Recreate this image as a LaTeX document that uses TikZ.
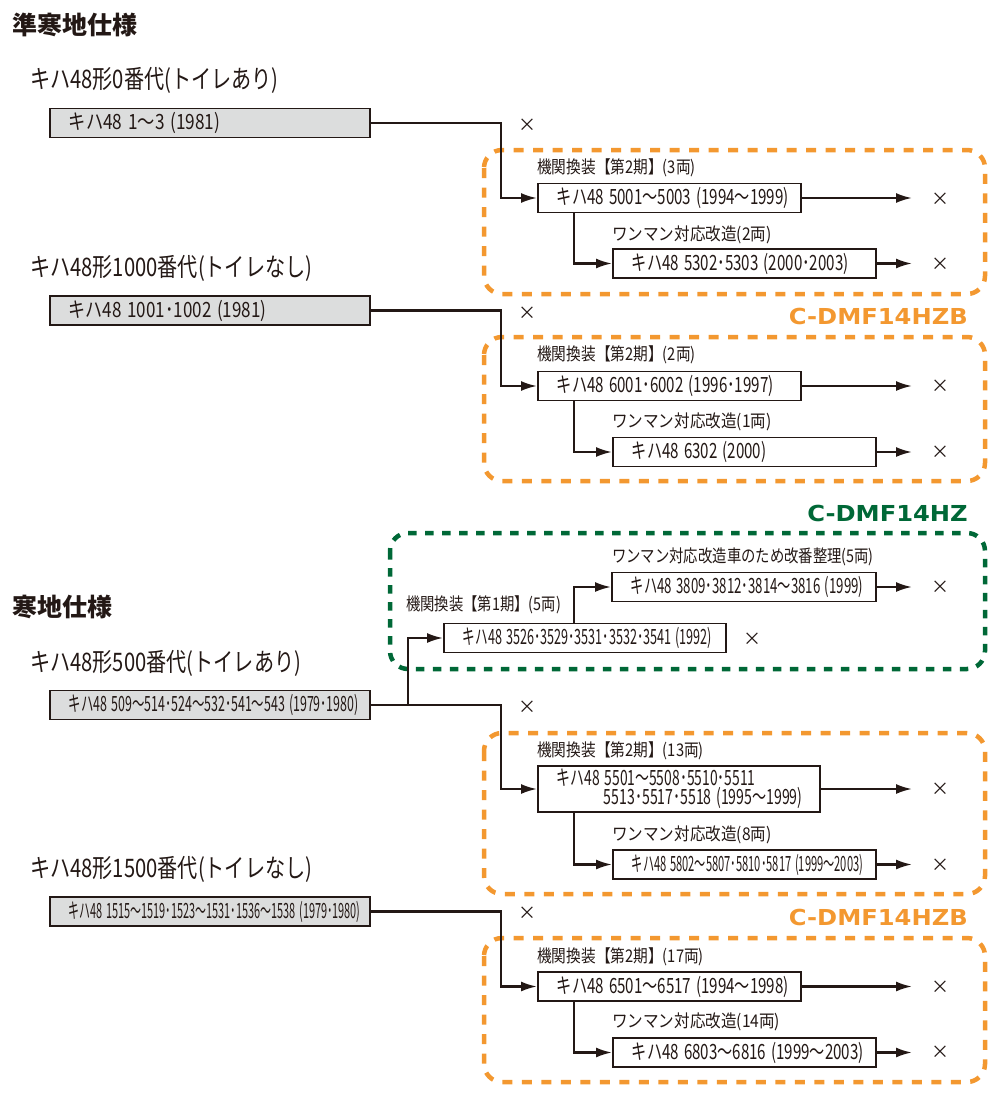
\documentclass[tikz,border=0pt]{standalone}
\usepackage{fontspec}
\usepackage{graphicx}
\setmainfont{Noto Sans CJK JP}
\newfontfamily\titlefont[FakeStretch=0.79]{Noto Sans CJK JP}
\newfontfamily\engfont[FakeStretch=1.1]{DejaVu Sans}
\usetikzlibrary{calc}
\usetikzlibrary{arrows.meta}
\definecolor{ink}{RGB}{35,24,21}
\definecolor{boxgray}{RGB}{220,221,221}
\definecolor{hzborange}{RGB}{243,152,48}
\definecolor{hzgreen}{RGB}{0,104,55}
\tikzstyle{carbox}=[draw=ink,line width=1.9,minimum height=29,inner xsep=19,inner ysep=0,anchor=west,align=left,text=ink,font=\fontsize{21}{19}\selectfont]
\tikzstyle{oldbox}=[carbox,fill=boxgray,text width=282]
\tikzstyle{newbox}=[carbox,fill=white,text width=225]
\tikzstyle{modlabel}=[anchor=west,inner sep=0,text=ink,font=\fontsize{17.5}{19}\selectfont]
\tikzstyle{typelabel}=[anchor=west,inner sep=0,text=ink,font=\fontsize{25.5}{27}\titlefont]
\tikzstyle{speclabel}=[anchor=west,inner sep=0,text=ink,font=\fontsize{25}{27}\selectfont\bfseries]
\tikzstyle{enginelabel}=[anchor=east,inner sep=0,font=\fontsize{22}{24}\engfont\bfseries]
\tikzstyle{scrapmark}=[inner sep=0,text=ink,font=\fontsize{18}{19}\selectfont]
\tikzstyle{convarrow}=[draw=ink,line width=2.2,-{Latex[length=16pt,width=10pt]}]
\tikzstyle{groupframe}=[line width=4.5,rounded corners=18,dash pattern=on 10 off 9.5]
\newcommand{\squeeze}[2]{\scalebox{#1}[1]{#2}}

\begin{document}
\begin{tikzpicture}[x=1pt,y=-1pt]
  \useasboundingbox (0,0) rectangle (1000,1100);
  % group frames
  \draw[groupframe,hzborange] (484,150) rectangle (985,294);
  \draw[groupframe,hzborange] (484,337) rectangle (985,481);
  \draw[groupframe,hzgreen,dash pattern=on 8.5 off 8.5] (390,533) rectangle (985,669);
  \draw[groupframe,hzborange] (484,733) rectangle (985,894);
  \draw[groupframe,hzborange] (484,938) rectangle (985,1082);
  \node[enginelabel,hzborange] (hzb1) at (968,316) {C-DMF14HZB};
  \node[enginelabel,hzgreen] (hz) at (968,513) {C-DMF14HZ};
  \node[enginelabel,hzborange] (hzb2) at (968,917) {C-DMF14HZB};

  % semi-cold spec
  \node[speclabel] (semicold) at (12,25) {準寒地仕様};
  \node[typelabel] (t0) at (30,80) {キハ48形0番代(トイレあり)};
  \node[oldbox] (b0) at (49,123) {\squeeze{0.82}{キハ48 1～3 (1981)}};
  \node[modlabel] (m5001) at (537,168) {\squeeze{0.84}{機関換装【第2期】(3両)}};
  \node[newbox] (b5001) at (537,198) {\squeeze{0.72}{キハ48 5001～5003 (1994～1999)}};
  \node[modlabel] (m5302) at (612,235) {\squeeze{0.89}{ワンマン対応改造(2両)}};
  \node[newbox] (b5302) at (612,263.5) {\squeeze{0.72}{キハ48 5302･5303 (2000･2003)}};
  \node[typelabel] (t1000) at (30,268) {キハ48形1000番代(トイレなし)};
  \node[oldbox] (b1000) at (49,310.5) {\squeeze{0.81}{キハ48 1001･1002 (1981)}};
  \node[modlabel] (m6001) at (537,355) {\squeeze{0.84}{機関換装【第2期】(2両)}};
  \node[newbox] (b6001) at (537,386) {\squeeze{0.72}{キハ48 6001･6002 (1996･1997)}};
  \node[modlabel] (m6302) at (612,422) {\squeeze{0.89}{ワンマン対応改造(1両)}};
  \node[newbox] (b6302) at (612,452) {\squeeze{0.72}{キハ48 6302 (2000)}};

  % cold spec
  \node[speclabel] (cold) at (12,607) {寒地仕様};
  \node[modlabel] (m3809) at (612,557) {\squeeze{0.82}{ワンマン対応改造車のため改番整理(5両)}};
  \node[newbox,text width=226] (b3809) at (611,587) {\squeeze{0.63}{キハ48 3809･3812･3814～3816 (1999)}};
  \node[modlabel] (m3526) at (406,605) {\squeeze{0.82}{機関換装【第1期】(5両)}};
  \node[newbox,text width=244] (b3526) at (443,638) {\squeeze{0.6}{キハ48 3526･3529･3531･3532･3541 (1992)}};
  \node[typelabel] (t500) at (30,663) {キハ48形500番代(トイレあり)};
  \node[oldbox] (b500) at (49,705) {\squeeze{0.59}{キハ48 509～514･524～532･541～543 (1979･1980)}};
  \node[modlabel] (m5501) at (537,751) {\squeeze{0.84}{機関換装【第2期】(13両)}};
  \node[newbox,text width=244,minimum height=46] (b5501) at (537,789)
    {\squeeze{0.66}{キハ48 5501～5508･5510･5511}\\\hspace*{47pt}\squeeze{0.67}{5513･5517･5518 (1995～1999)}};
  \node[modlabel] (m5802) at (612,835) {\squeeze{0.89}{ワンマン対応改造(8両)}};
  \node[newbox] (b5802) at (612,864.5) {\squeeze{0.53}{キハ48 5802～5807･5810･5817 (1999～2003)}};
  \node[typelabel] (t1500) at (30,869) {キハ48形1500番代(トイレなし)};
  \node[oldbox] (b1500) at (49,911.5) {\squeeze{0.52}{キハ48 1515～1519･1523～1531･1536～1538 (1979･1980)}};
  \node[modlabel] (m6501) at (537,957) {\squeeze{0.84}{機関換装【第2期】(17両)}};
  \node[newbox] (b6501) at (537,986.5) {\squeeze{0.72}{キハ48 6501～6517 (1994～1998)}};
  \node[modlabel] (m6803) at (612,1022) {\squeeze{0.89}{ワンマン対応改造(14両)}};
  \node[newbox] (b6803) at (612,1052.5) {\squeeze{0.72}{キハ48 6803～6816 (1999～2003)}};

  % scrapped
  \foreach \x/\y in {527/125,940/199,940/264,527/313,940/386,940/452,940/587,752/639,527/707,940/789,940/865,527/913,940/987,940/1052}
    \node[scrapmark] at (\x,\y) {×};

  % conversions
  \coordinate (stop) at (912,0);
  \draw[convarrow] (b0.east) -- ++(130,0) |- (b5001.west);
  \draw[convarrow] ([xshift=37pt]b5001.south west) |- (b5302.west);
  \draw[convarrow] (b1000.east) -- ++(130,0) |- (b6001.west);
  \draw[convarrow] ([xshift=37pt]b6001.south west) |- (b6302.west);
  \draw[convarrow] ([xshift=37pt]b500.east) |- (b3526.west);
  \draw[convarrow] ([xshift=131pt]b3526.north west) |- (b3809.west);
  \draw[convarrow] (b500.east) -- ++(130,0) |- (b5501.west);
  \draw[convarrow] ([xshift=37pt]b5501.south west) |- (b5802.west);
  \draw[convarrow] (b1500.east) -- ++(130,0) |- (b6501.west);
  \draw[convarrow] ([xshift=37pt]b6501.south west) |- (b6803.west);
  \foreach \b in {b5001,b5302,b6001,b6302,b3809,b5501,b5802,b6501,b6803}
    \draw[convarrow] (\b.east) -- (\b.east -| stop);
\end{tikzpicture}
\end{document}
